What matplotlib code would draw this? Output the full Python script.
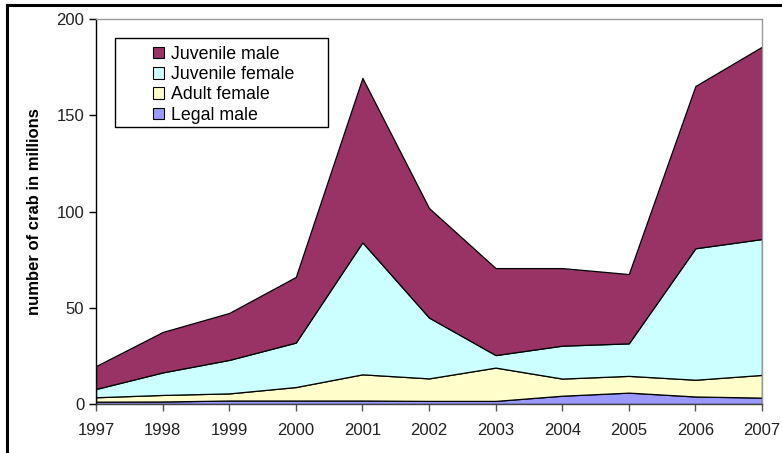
import matplotlib.pyplot as plt
from matplotlib.patches import Patch
from matplotlib.lines import Line2D

plt.rcParams['font.family'] = ['Liberation Sans', 'DejaVu Sans']

years = [1997, 1998, 1999, 2000, 2001, 2002, 2003, 2004, 2005, 2006, 2007]
legal_male = [1.2, 1.3, 1.8, 1.8, 1.8, 1.6, 1.6, 4.3, 5.9, 3.9, 3.3]
adult_female = [2.3, 3.4, 3.7, 7.0, 13.6, 11.7, 17.3, 8.9, 8.7, 8.7, 11.8]
juvenile_female = [4.3, 11.7, 17.4, 23.1, 68.6, 31.6, 6.5, 17.1, 16.9, 68.3, 70.6]
juvenile_male = [11.9, 21.0, 24.4, 34.1, 85.4, 56.9, 45.2, 40.3, 36.0, 84.3, 99.9]

labels = ["Legal male", "Adult female", "Juvenile female", "Juvenile male"]
colors = ["#9999FF", "#FFFFCC", "#CCFFFF", "#993366"]

fig = plt.figure(figsize=(7.82, 4.53), dpi=100)
ax = fig.add_axes([0.1228, 0.1082, 0.8516, 0.8498])

ax.stackplot(years, legal_male, adult_female, juvenile_female, juvenile_male,
             colors=colors, edgecolor="black", linewidth=0.9)

ax.set_xlim(1997, 2007)
ax.set_ylim(0, 200)
ax.set_xticks(years)
ax.set_yticks([0, 50, 100, 150, 200])
ax.tick_params(axis="both", direction="out", length=5, width=1, labelsize=12,
               colors="#222222")
ax.tick_params(axis="x", pad=9, color="#555555")
ax.tick_params(axis="y", color="black")
ax.set_ylabel("number of crab in millions", fontsize=12, fontweight="bold", labelpad=10)

ax.spines["left"].set_color("black")
ax.spines["bottom"].set_color("#444444")
ax.spines["top"].set_color("#999999")
ax.spines["right"].set_color("#999999")
for s in ax.spines.values():
    s.set_linewidth(1)

# legend (order reversed, with Excel-style box)
handles = [Patch(facecolor=c, edgecolor="black", linewidth=0.8)
           for c in colors[::-1]]
ax.legend(handles, labels[::-1], loc="upper left", bbox_to_anchor=(0.0856, 0.93),
          frameon=False, fontsize=12.8, handlelength=0.6, handleheight=0.6,
          handletextpad=0.4, labelspacing=0.18, borderpad=0, borderaxespad=0)
ax.add_patch(plt.Rectangle((0.0285, 0.719), 0.3195, 0.232, transform=ax.transAxes,
                           fill=False, edgecolor="black", linewidth=1, zorder=5))

# outer chart border (top and left visible)
fig.add_artist(Line2D([0.009, 1.0], [0.989, 0.989], color="black", linewidth=2.2))
fig.add_artist(Line2D([0.009, 0.009], [0.0, 0.989], color="black", linewidth=2.2))

fig.savefig("out.png", dpi=100)
